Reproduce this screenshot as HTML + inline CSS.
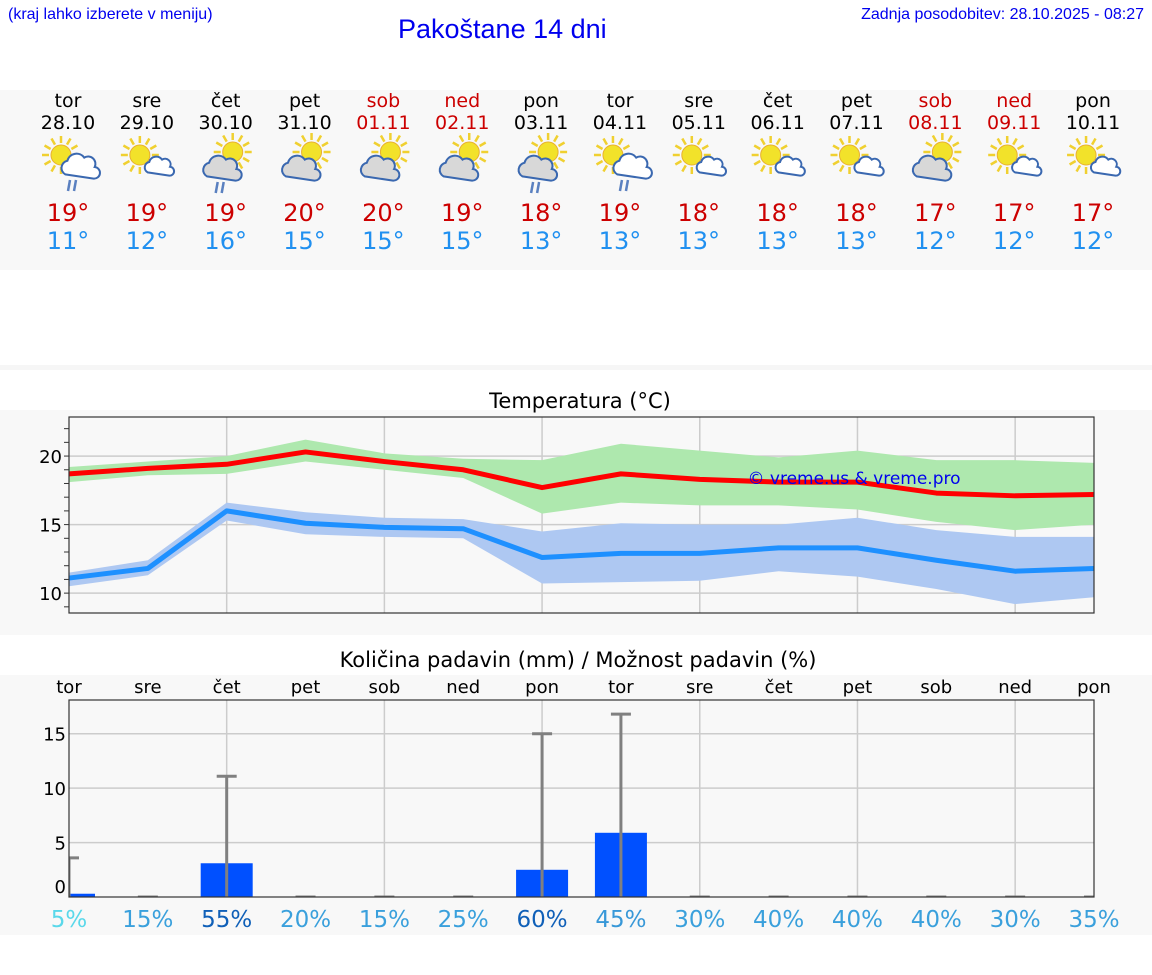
<!DOCTYPE html>
<html><head><meta charset="utf-8">
<style>
html,body{margin:0;padding:0;background:#fff;}
body{width:1152px;height:975px;position:relative;overflow:hidden;font-family:"DejaVu Sans","Liberation Sans",sans-serif;}
.abs{position:absolute;}
.hdr{font-family:"Liberation Sans",sans-serif;color:#0000ee;}
</style></head>
<body>
<div class="abs hdr" style="left:8px;top:6px;font-size:16px;">(kraj lahko izberete v meniju)</div>
<div class="abs hdr" style="left:398px;top:14px;font-size:27px;">Pakoštane 14 dni</div>
<div class="abs hdr" style="right:8px;top:6px;font-size:16px;">Zadnja posodobitev: 28.10.2025 - 08:27</div>
<svg class="abs" style="left:0;top:0" width="1152" height="975">
<rect x="0" y="90" width="1152" height="180" fill="#f8f8f8"/>
<rect x="0" y="365" width="1152" height="5" fill="#f6f6f6"/>
<rect x="0" y="410" width="1152" height="225" fill="#f8f8f8"/>
<rect x="0" y="675" width="1152" height="260" fill="#f8f8f8"/>
<g id="days"></g>
<text x="580" y="408" font-size="21" text-anchor="middle" fill="#000">Temperatura (°C)</text>
<g id="temp"></g>
<text x="578" y="667" font-size="21" text-anchor="middle" fill="#000">Količina padavin (mm) / Možnost padavin (%)</text>
<g id="prec"></g>
</svg>
<script>
const dayNames=["tor","sre","čet","pet","sob","ned","pon","tor","sre","čet","pet","sob","ned","pon"];
const dates=["28.10","29.10","30.10","31.10","01.11","02.11","03.11","04.11","05.11","06.11","07.11","08.11","09.11","10.11"];
const weekend=[0,0,0,0,1,1,0,0,0,0,0,1,1,0];
const icons=["scr","sc","gcr","gc","gc","gc","gcr","scr","sc","sc","sc","gc","sc","sc"];
const maxT=[19,19,19,20,20,19,18,19,18,18,18,17,17,17];
const minT=[11,12,16,15,15,15,13,13,13,13,13,12,12,12];
const tMax=[18.7,19.1,19.4,20.3,19.6,19.0,17.7,18.7,18.3,18.1,18.1,17.3,17.1,17.2];
const tMaxHi=[19.2,19.6,20.0,21.2,20.2,19.8,19.7,20.9,20.4,19.9,20.4,19.7,19.7,19.5];
const tMaxLo=[18.1,18.6,18.7,19.6,19.0,18.4,15.8,16.6,16.4,16.4,16.1,15.2,14.6,15.0];
const tMin=[11.1,11.8,16.0,15.1,14.8,14.7,12.6,12.9,12.9,13.3,13.3,12.4,11.6,11.8];
const tMinHi=[11.5,12.4,16.6,15.9,15.5,15.4,14.5,15.1,15.0,15.0,15.5,14.6,14.1,14.1];
const tMinLo=[10.5,11.3,15.3,14.3,14.1,14.0,10.7,10.8,10.9,11.6,11.2,10.3,9.2,9.7];
const tempTicks=[10,15,20];
const precip=[0.3,0,3.1,0,0,0,2.5,5.9,0,0,0,0,0,0];
const precipMax=[3.6,0,11.1,0,0,0,15.0,16.8,0,0,0,0,0,0];
const chance=[5,15,55,20,15,25,60,45,30,40,40,40,30,35];
const precipTicks=[0,5,10,15];
const NS="http://www.w3.org/2000/svg";
function mk(tag,attrs,parent){const e=document.createElementNS(NS,tag);for(const k in attrs)e.setAttribute(k,attrs[k]);parent.appendChild(e);return e;}
const X0=69,X1=1094,n=14;
const xs=i=>X0+i*(X1-X0)/(n-1);
const dg=document.getElementById('days');
function sun(g,cx,cy,r){for(let a=0;a<12;a++){const t=a*Math.PI/6;mk('line',{x1:cx+Math.cos(t)*(r+2),y1:cy+Math.sin(t)*(r+2),x2:cx+Math.cos(t)*(r+9),y2:cy+Math.sin(t)*(r+9),stroke:'#f0d030','stroke-width':2.5},g);}mk('circle',{cx,cy,r,fill:'#f2e22a',stroke:'#e8b030','stroke-width':1},g);}
function cloud(g,cx,cy,s,fill){const p=`M${cx-14*s},${cy+8*s} a${7*s},${7*s} 0 0 1 ${2*s},${-13*s} a${9*s},${9*s} 0 0 1 ${16*s},${-3*s} a${7*s},${7*s} 0 0 1 ${10*s},${9*s} a${5*s},${5*s} 0 0 1 ${-1*s},${11*s} z`;mk('path',{d:p,fill,stroke:'#3a68b0','stroke-width':2},g);}
function rain(g,cx,cy){mk('line',{x1:cx-2,y1:cy,x2:cx-4,y2:cy+11,stroke:'#5a80c0','stroke-width':2.5},g);mk('line',{x1:cx+4,y1:cy,x2:cx+2,y2:cy+11,stroke:'#5a80c0','stroke-width':2.5},g);}
for(let i=0;i<n;i++){
  const cx=68+i*78.85;
  const col=weekend[i]?'#cc0000':'#000';
  const t1=mk('text',{x:cx,y:107,'font-size':19,'text-anchor':'middle',fill:col},dg);t1.textContent=dayNames[i];
  
  
  const t2=mk('text',{x:cx,y:129,'font-size':19,'text-anchor':'middle',fill:col},dg);t2.textContent=dates[i];
  
  
  const ig=mk('g',{},dg);
  
  
  const ic=icons[i];
  if(ic[0]==='s'){sun(ig,cx-7,155,10);cloud(ig,cx+12,166,ic==='scr'?1.05:0.8,'#fff');if(ic==='scr')rain(ig,cx+4,180);}
  else{sun(ig,cx+7,152,10);cloud(ig,cx-4,168,1.05,'#d8d8d8');if(ic==='gcr')rain(ig,cx-6,182);}
  const t3=mk('text',{x:cx,y:221,'font-size':24,'text-anchor':'middle',fill:'#cc0000'},dg);t3.textContent=maxT[i]+'°';
  
  
  const t4=mk('text',{x:cx,y:249,'font-size':24,'text-anchor':'middle',fill:'#2090f0'},dg);t4.textContent=minT[i]+'°';
  
  
}
const tg=document.getElementById('temp');
const TY0=417,TY1=613,TMIN=8.55,TMAXV=22.85;
const ty=v=>TY1-(v-TMIN)/(TMAXV-TMIN)*(TY1-TY0);
mk('rect',{x:X0,y:TY0,width:X1-X0,height:TY1-TY0,fill:'#f8f8f8'},tg);
for(let i=2;i<n;i+=2)mk('line',{x1:xs(i),y1:TY0,x2:xs(i),y2:TY1,stroke:'#ccc','stroke-width':1.5},tg);
tempTicks.forEach(v=>{mk('line',{x1:X0,y1:ty(v),x2:X1,y2:ty(v),stroke:'#ccc','stroke-width':1.5},tg);const t=mk('text',{x:62,y:ty(v)+7,'font-size':18,'text-anchor':'end',fill:'#000'},tg);t.textContent=v;
  
  });
for(let v=9;v<=22;v++)mk('line',{x1:X0-5,y1:ty(v),x2:X0,y2:ty(v),stroke:'#333','stroke-width':1},tg);
function band(hi,lo,fill,name){let d='';hi.forEach((v,i)=>d+=(i?'L':'M')+xs(i)+','+ty(v));for(let i=lo.length-1;i>=0;i--)d+='L'+xs(i)+','+ty(lo[i]);const p=mk('path',{d:d+'Z',fill},tg);
  
  }
function line(a,stroke,name){const p=mk('polyline',{points:a.map((v,i)=>xs(i)+','+ty(v)).join(' '),fill:'none',stroke,'stroke-width':5,'stroke-linejoin':'round'},tg);
  
  }
band(tMaxHi,tMaxLo,'#aee8ae','max-temp-band');
band(tMinHi,tMinLo,'#aec8f2','min-temp-band');
line(tMax,'#ff0000','max-temp-line');
line(tMin,'#1e90ff','min-temp-line');
const wm=mk('text',{x:854,y:484,'font-size':17,'text-anchor':'middle',fill:'#0000ee'},tg);wm.textContent='© vreme.us & vreme.pro';


mk('rect',{x:X0,y:TY0,width:X1-X0,height:TY1-TY0,fill:'none',stroke:'#333','stroke-width':1.2},tg);
const pg=document.getElementById('prec');
const PY0=700,PY1=897,PMIN=0,PMAX=18.1;
const py=v=>PY1-(v-PMIN)/(PMAX-PMIN)*(PY1-PY0);
mk('clipPath',{id:'pc'},pg);mk('rect',{x:X0,y:PY0,width:X1-X0,height:PY1-PY0},pg.lastChild);
mk('rect',{x:X0,y:PY0,width:X1-X0,height:PY1-PY0,fill:'#f8f8f8'},pg);
for(let i=2;i<n;i+=2)mk('line',{x1:xs(i),y1:PY0,x2:xs(i),y2:PY1,stroke:'#ccc','stroke-width':1.5},pg);
precipTicks.forEach(v=>{if(v>0)mk('line',{x1:X0,y1:py(v),x2:X1,y2:py(v),stroke:'#ccc','stroke-width':1.5},pg);const t=mk('text',{x:66,y:py(v)+(v===0?-4:7),'font-size':18,'text-anchor':'end',fill:'#000'},pg);t.textContent=v;
  
  });
const cg=mk('g',{'clip-path':'url(#pc)'},pg);
const chCol=c=>c>=55?'#1060b8':c>=45?'#3898d8':c>=10?'#3aa0dc':'#5ad8ea';
for(let i=0;i<n;i++){
  const b=mk('rect',{x:xs(i)-26,y:py(precip[i]),width:52,height:PY1-py(precip[i]),fill:'#0050ff'},cg);
  
  
  const e=mk('g',{},cg);
  
  
  mk('line',{x1:xs(i),y1:PY1,x2:xs(i),y2:py(precipMax[i]),stroke:'#808080','stroke-width':3},e);
  mk('line',{x1:xs(i)-10,y1:py(precipMax[i]),x2:xs(i)+10,y2:py(precipMax[i]),stroke:'#808080','stroke-width':3},e);
  const d=mk('text',{x:xs(i),y:693,'font-size':18,'text-anchor':'middle',fill:'#000'},pg);d.textContent=dayNames[i];
  
  
  const c=mk('text',{x:xs(i),y:927,'font-size':23,'text-anchor':'middle',fill:chCol(chance[i])},pg);c.textContent=chance[i]+'%';
  
  
}
mk('rect',{x:X0,y:PY0,width:X1-X0,height:PY1-PY0,fill:'none',stroke:'#333','stroke-width':1.2},pg);
</script>
</body></html>
